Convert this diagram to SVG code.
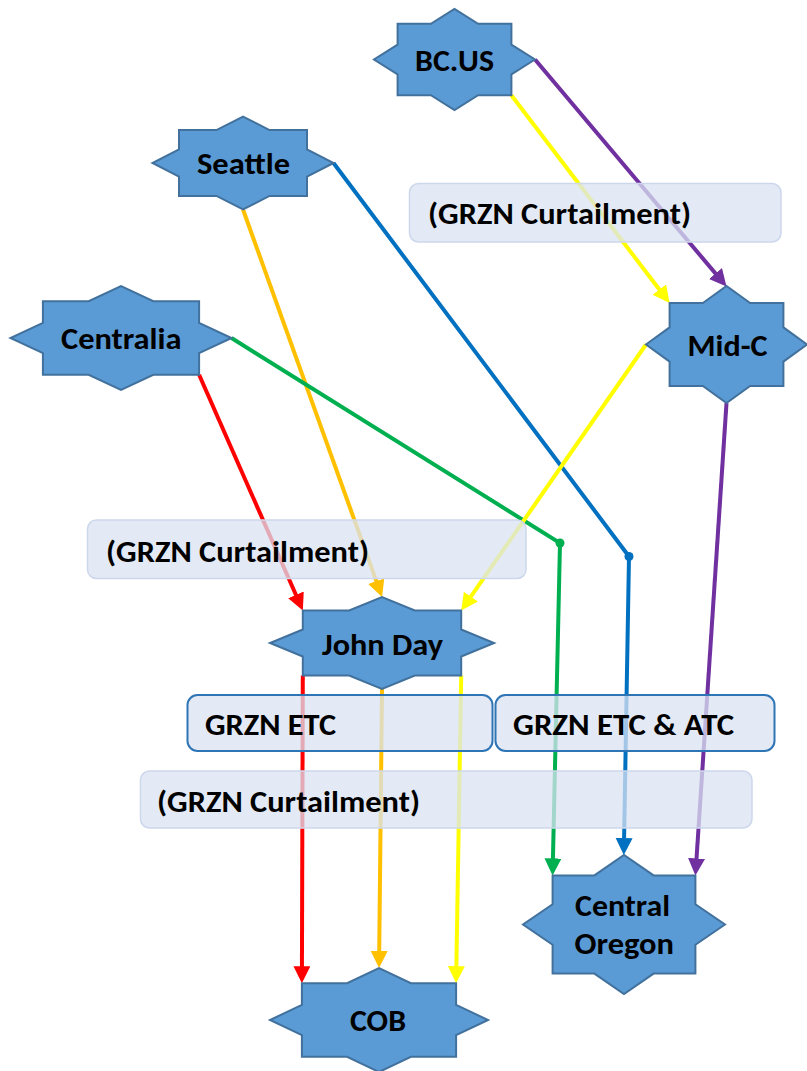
<svg xmlns="http://www.w3.org/2000/svg" width="807" height="1071" viewBox="0 0 807 1071">
<style>
.star{fill:#5B9BD5;stroke:#41719C;stroke-width:2;stroke-linejoin:miter}
.t{font-family:Carlito,Lato,"Open Sans",sans-serif;font-weight:bold;font-size:30.5px;fill:#000}
.c{fill:none;stroke-width:4}
.box{fill:#DAE3F3;fill-opacity:0.75;stroke:#CDD7EC;stroke-width:1.5}
.box2{fill:#DAE3F3;fill-opacity:0.75;stroke:#2E75B6;stroke-width:2}
</style>
<defs>
<marker id="aR" markerUnits="userSpaceOnUse" markerWidth="19" markerHeight="18" refX="11" refY="8.5" orient="auto"><path d="M0,0 L17,8.5 L0,17 z" fill="#FF0000"/></marker>
<marker id="aO" markerUnits="userSpaceOnUse" markerWidth="19" markerHeight="18" refX="11" refY="8.5" orient="auto"><path d="M0,0 L17,8.5 L0,17 z" fill="#FFC000"/></marker>
<marker id="aY" markerUnits="userSpaceOnUse" markerWidth="19" markerHeight="18" refX="11" refY="8.5" orient="auto"><path d="M0,0 L17,8.5 L0,17 z" fill="#FFFF00"/></marker>
<marker id="aG" markerUnits="userSpaceOnUse" markerWidth="19" markerHeight="18" refX="11" refY="8.5" orient="auto"><path d="M0,0 L17,8.5 L0,17 z" fill="#00B050"/></marker>
<marker id="aB" markerUnits="userSpaceOnUse" markerWidth="19" markerHeight="18" refX="11" refY="8.5" orient="auto"><path d="M0,0 L17,8.5 L0,17 z" fill="#0070C0"/></marker>
<marker id="aP" markerUnits="userSpaceOnUse" markerWidth="19" markerHeight="18" refX="11" refY="8.5" orient="auto"><path d="M0,0 L17,8.5 L0,17 z" fill="#7030A0"/></marker>
</defs>

<g id="connectors">
<path class="c" stroke="#7030A0" d="M535,59.5 L722.6,281.9" marker-end="url(#aP)"/>
<path class="c" stroke="#FFFF00" d="M511.4,95.2 L666,298.3" marker-end="url(#aY)"/>
<path class="c" stroke="#0070C0" d="M333.5,163 L629,556.5 L623.9,849" marker-end="url(#aB)"/>
<circle cx="629" cy="556.5" r="4.5" fill="#0070C0"/>
<path class="c" stroke="#FFC000" d="M243,209.5 L380,591.4" marker-end="url(#aO)"/>
<path class="c" stroke="#00B050" d="M231.5,338 L560,543 L552.7,869.4" marker-end="url(#aG)"/>
<circle cx="560" cy="543" r="4.5" fill="#00B050"/>
<path class="c" stroke="#FF0000" d="M199.1,374.8 L300.4,605" marker-end="url(#aR)"/>
<path class="c" stroke="#FFFF00" d="M646,344.5 L464.6,605.6" marker-end="url(#aY)"/>
<path class="c" stroke="#7030A0" d="M726.5,403 L695.8,869.4" marker-end="url(#aP)"/>
<path class="c" stroke="#FF0000" d="M302.8,675.5 L301.9,977.2" marker-end="url(#aR)"/>
<path class="c" stroke="#FFC000" d="M382,689 L379.1,962" marker-end="url(#aO)"/>
<path class="c" stroke="#FFFF00" d="M461.2,675.5 L456.2,977.2" marker-end="url(#aY)"/>
</g>

<g id="label-curtail-top">
<rect class="box" x="409.5" y="183.5" width="371.5" height="58.5" rx="9"/>
<text class="t" x="428" y="224" textLength="263" lengthAdjust="spacingAndGlyphs">(GRZN Curtailment)</text>
</g>
<g id="label-curtail-mid">
<rect class="box" x="87.5" y="520" width="438.5" height="58.5" rx="9"/>
<text class="t" x="106" y="562" textLength="263" lengthAdjust="spacingAndGlyphs">(GRZN Curtailment)</text>
</g>
<g id="label-etc">
<rect class="box2" x="187.5" y="695" width="305" height="56" rx="10"/>
<text class="t" x="205" y="735" textLength="131" lengthAdjust="spacingAndGlyphs">GRZN ETC</text>
</g>
<g id="label-etc-atc">
<rect class="box2" x="495.5" y="695" width="279" height="56" rx="10"/>
<text class="t" x="513" y="735" textLength="221" lengthAdjust="spacingAndGlyphs">GRZN ETC &amp; ATC</text>
</g>
<g id="label-curtail-bottom">
<rect class="box" x="140.5" y="771" width="611.5" height="57" rx="9"/>
<text class="t" x="157" y="812" textLength="263" lengthAdjust="spacingAndGlyphs">(GRZN Curtailment)</text>
</g>

<g id="node-bcus">
<polygon class="star" points="535,59.5 511.4,74.3 511.4,95.2 478.1,95.2 454.5,110 430.9,95.2 397.6,95.2 397.6,74.3 374,59.5 397.6,44.7 397.6,23.8 430.9,23.8 454.5,9 478.1,23.8 511.4,23.8 511.4,44.7"/>
<text class="t" x="415" y="71" textLength="79" lengthAdjust="spacingAndGlyphs">BC.US</text>
</g>
<g id="node-seattle">
<polygon class="star" points="333.5,163 307,176.6 307,195.9 269.5,195.9 243,209.5 216.5,195.9 179,195.9 179,176.6 152.5,163 179,149.4 179,130.1 216.5,130.1 243,116.5 269.5,130.1 307,130.1 307,149.4"/>
<text class="t" x="197" y="174" textLength="93" lengthAdjust="spacingAndGlyphs">Seattle</text>
</g>
<g id="node-centralia">
<polygon class="star" points="231.5,338 199.1,353.2 199.1,374.8 153.3,374.8 121,390 88.7,374.8 42.9,374.8 42.9,353.2 10.5,338 42.9,322.8 42.9,301.2 88.7,301.2 121,286 153.3,301.2 199.1,301.2 199.1,322.8"/>
<text class="t" x="61" y="348.5" textLength="120.5" lengthAdjust="spacingAndGlyphs">Centralia</text>
</g>
<g id="node-midc">
<polygon class="star" points="807,344.5 783.4,361.6 783.4,385.9 750.1,385.9 726.5,403 702.9,385.9 669.6,385.9 669.6,361.6 646,344.5 669.6,327.4 669.6,303.1 702.9,303.1 726.5,286 750.1,303.1 783.4,303.1 783.4,327.4"/>
<text class="t" x="687.5" y="356" textLength="80" lengthAdjust="spacingAndGlyphs">Mid-C</text>
</g>
<g id="node-johnday">
<polygon class="star" points="494,643 461.2,656.5 461.2,675.5 414.8,675.5 382,689 349.2,675.5 302.8,675.5 302.8,656.5 270,643 302.8,629.5 302.8,610.5 349.2,610.5 382,597 414.8,610.5 461.2,610.5 461.2,629.5"/>
<text class="t" x="322" y="654.5" textLength="121" lengthAdjust="spacingAndGlyphs">John Day</text>
</g>
<g id="node-central-oregon">
<polygon class="star" points="725,924.5 695.4,944.8 695.4,973.6 653.6,973.6 624,994 594.4,973.6 552.6,973.6 552.6,944.8 523,924.5 552.6,904.2 552.6,875.4 594.4,875.4 624,855 653.6,875.4 695.4,875.4 695.4,904.2"/>
<text class="t" x="575" y="915.5" textLength="95" lengthAdjust="spacingAndGlyphs">Central</text>
<text class="t" x="574.5" y="954" textLength="99.5" lengthAdjust="spacingAndGlyphs">Oregon</text>
</g>
<g id="node-cob">
<polygon class="star" points="488,1020 456.1,1035.2 456.1,1056.8 410.9,1056.8 379,1072 347.1,1056.8 301.9,1056.8 301.9,1035.2 270,1020 301.9,1004.8 301.9,983.2 347.1,983.2 379,968 410.9,983.2 456.1,983.2 456.1,1004.8"/>
<text class="t" x="350" y="1031" textLength="56" lengthAdjust="spacingAndGlyphs">COB</text>
</g>
</svg>
